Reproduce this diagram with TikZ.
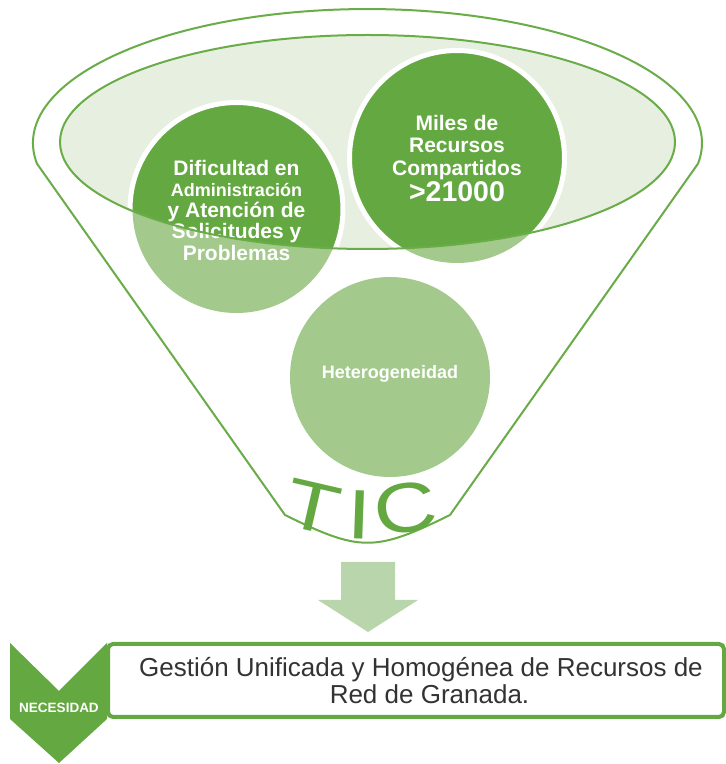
\documentclass[tikz,border=0pt]{standalone}
\usepackage{fontspec}
\setmainfont{Liberation Sans}
\usepackage{graphicx}
\definecolor{dkgreen}{HTML}{64A841}
\definecolor{lnkgreen}{HTML}{6AAD48}
\definecolor{ltgreen}{HTML}{A3CA8C}
\definecolor{elfill}{HTML}{E7EFE1}
\definecolor{arrowgreen}{HTML}{B8D5AB}
\definecolor{txtgray}{HTML}{333333}
\begin{document}
\begin{tikzpicture}[x=1pt,y=1pt,
  funnelline/.style={draw=lnkgreen, line width=2pt},
  circtext/.style={text=white, align=center, inner sep=0pt},
  ticletter/.style={text=dkgreen, inner sep=0pt, font=\fontsize{70}{70}\selectfont},
  ringcirc/.style={draw=white, line width=5pt},
  boxtext/.style={text=txtgray, font=\fontsize{26}{27}\selectfont, anchor=base, inner sep=0pt}
]
\useasboundingbox[fill=white] (0,0) rectangle (726,764);

% funnel outline
\draw[funnelline, fill=white] (37,600.3) arc[start angle=188.87, end angle=-8.87, x radius=334.5, y radius=134]
  -- (450,249) .. controls (375,212) and (360,212) .. (285,249) -- cycle;

% inner rim fill
\fill[elfill] (367.5,622) ellipse[x radius=307.5, y radius=107];

% circles (light part)
\fill[ltgreen] (236.5,555) circle[radius=104];
\fill[ltgreen] (457,606) circle[radius=105];
\fill[ltgreen] (390,387) circle[radius=100];

% circles (dark part inside the rim)
\begin{scope}
  \clip (367.5,622) ellipse[x radius=307.5, y radius=107];
  \filldraw[fill=dkgreen, ringcirc] (236.5,555) circle[radius=106.5];
  \filldraw[fill=dkgreen, ringcirc] (457,606) circle[radius=107.5];
\end{scope}

% circle texts
\node[circtext, font=\bfseries\fontsize{21}{21.25}\selectfont] (dific) at (236.5,554)
  {Dificultad en\\{\fontsize{18}{21.25}\selectfont Administración}\\y Atención de\\Solicitudes y\\Problemas};
\node[circtext, font=\bfseries\fontsize{21}{22.5}\selectfont] (miles) at (457,605.8)
  {Miles de\\Recursos\\Compartidos\\[1pt]{\fontsize{28.5}{30}\selectfont >21000}};
\node[circtext, font=\bfseries\fontsize{18}{20}\selectfont] (hetero) at (390,390.6) {Heterogeneidad};

% rim outline
\draw[funnelline] (367.5,622) ellipse[x radius=307.5, y radius=107];

% TIC letters
\node[ticletter, rotate=-13] (tT) at (313,257) {\scalebox{1.25}[1]{T}};
\node[ticletter, rotate=-2] (tI) at (359,249) {\scalebox{1.25}[1]{I}};
\node[ticletter, rotate=8] (tC) at (405,256) {\scalebox{1.25}[1]{C}};

% block arrow
\fill[arrowgreen] (341,202) -- (395,202) -- (395,164) -- (418,164) -- (368,132) -- (318,164) -- (341,164) -- cycle;

% result box
\draw[draw=dkgreen, line width=4pt, rounded corners=5pt, fill=white] (108,120) rectangle (724,47);
\fill[dkgreen] (10,121) -- (59,73) -- (107,121) -- (107,45) -- (59,1) -- (10,45) -- cycle;
\node[text=white, font=\bfseries\fontsize{13.5}{14}\selectfont, anchor=base, inner sep=0pt] (nec) at (59,52) {NECESIDAD};
\node[boxtext] (g1) at (421,87.3) {Gestión Unificada y Homogénea de Recursos de};
\node[boxtext] (g2) at (429.5,60.7) {Red de Granada.};
\end{tikzpicture}
\end{document}
